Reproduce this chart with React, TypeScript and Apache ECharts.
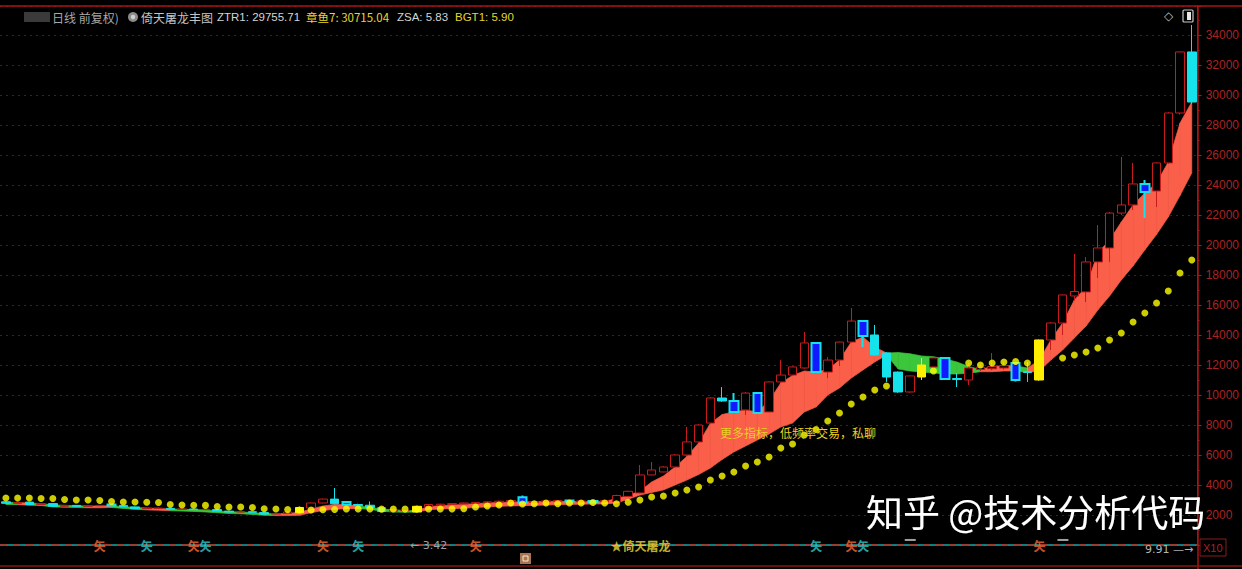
import React, { useEffect, useRef } from "react";
import * as echarts from "echarts";

// [open, close, low, high]
const kline: number[][] = [
  [2880, 2780, 2760, 2900], [2780, 2840, 2760, 2870], [2860, 2700, 2680, 2880], [2700, 2760, 2680, 2780],
  [2760, 2580, 2560, 2780], [2580, 2640, 2560, 2660], [2640, 2580, 2560, 2660], [2580, 2620, 2560, 2640],
  [2620, 2640, 2580, 2680], [2700, 2640, 2620, 2760], [2640, 2560, 2540, 2660], [2540, 2420, 2400, 2560],
  [2420, 2460, 2400, 2480], [2460, 2440, 2420, 2500], [2440, 2380, 2360, 2460], [2380, 2400, 2360, 2420],
  [2400, 2360, 2340, 2420], [2360, 2380, 2340, 2400], [2360, 2260, 2240, 2380], [2260, 2200, 2180, 2280],
  [2200, 2220, 2180, 2240], [2220, 2180, 2160, 2240], [2160, 2060, 2040, 2180], [2060, 2100, 2040, 2120],
  [2100, 2200, 2060, 2240], [2150, 2500, 2130, 2550], [2470, 2800, 2450, 2830], [2800, 3060, 2780, 3100],
  [3060, 2750, 2730, 3800], [2860, 2680, 2660, 2900], [2700, 2620, 2600, 2750], [2650, 2500, 2480, 2900],
  [2480, 2230, 2200, 2500], [2250, 2300, 2200, 2350], [2300, 2280, 2220, 2350], [2200, 2580, 2180, 2600],
  [2560, 2700, 2540, 2730], [2650, 2720, 2620, 2750], [2700, 2760, 2680, 2780], [2740, 2800, 2720, 2830],
  [2780, 2840, 2760, 2860], [2820, 2880, 2800, 2900], [2860, 2920, 2840, 2950], [2880, 2960, 2860, 3000],
  [3180, 2820, 2800, 3300], [2840, 2900, 2820, 2940], [2880, 2940, 2860, 2960], [2920, 2960, 2900, 2990],
  [2960, 2880, 2860, 2990], [2880, 2940, 2860, 2960], [2930, 2860, 2840, 2960], [2870, 2960, 2850, 2990],
  [2870, 3300, 2850, 3350], [3230, 3580, 3200, 3620], [3470, 4670, 3450, 5330], [4670, 5000, 4650, 5530],
  [4870, 5200, 4850, 5250], [5200, 6000, 5150, 6050], [6000, 6870, 5950, 7870], [6870, 8000, 6800, 8050],
  [8130, 9800, 8100, 9850], [9800, 9600, 9550, 10530], [9600, 8870, 8800, 10130], [9000, 10130, 8670, 10200],
  [10130, 8800, 8750, 10200], [8870, 10870, 8850, 10900], [10870, 11330, 10800, 12330], [11330, 11870, 11300, 11900],
  [11800, 13470, 11750, 14200], [13470, 11530, 11500, 13500], [11530, 12330, 11130, 12530], [12330, 13530, 11930, 13560],
  [13530, 14930, 13500, 15800], [14930, 13930, 13200, 14950], [14000, 12670, 12600, 14670], [12800, 11200, 10870, 12850],
  [11530, 10200, 10150, 11560], [10200, 11270, 10150, 11300], [11200, 12000, 11000, 12470], [11870, 12470, 11800, 12500],
  [12470, 11070, 11000, 12500], [11100, 11030, 10530, 11470], [11000, 11800, 10670, 12130], [11700, 11850, 11600, 12100],
  [11750, 11900, 11650, 12800], [11800, 11950, 11700, 12200], [12130, 11000, 10900, 12200], [11560, 11500, 10870, 12200],
  [11000, 13670, 10950, 13700], [13670, 14800, 13000, 14850], [14800, 16670, 14000, 16700], [16600, 16900, 16300, 19400],
  [16870, 18870, 16200, 19200], [18870, 19800, 17800, 21330], [19800, 22130, 18870, 22200], [22130, 22670, 22000, 25870],
  [22670, 24070, 22330, 25470], [24070, 23530, 21800, 24330], [23600, 25470, 22530, 25500], [25470, 28800, 25400, 28850],
  [28800, 32870, 28700, 32900], [32870, 29530, 29400, 34670],
];

// candle style: u = hollow red, d = cyan, b = blue with cyan edge, y = yellow
const kinds: string[] = [
  "d", "u", "d", "u", "d", "u", "d", "u", "u", "b",
  "d", "d", "u", "u", "d", "u", "d", "u", "d", "d",
  "u", "d", "d", "u", "u", "y", "u", "u", "d", "b",
  "d", "d", "d", "u", "u", "y", "u", "u", "u", "u",
  "u", "u", "u", "u", "b", "u", "u", "u", "b", "u",
  "b", "u", "u", "u", "u", "u", "u", "u", "u", "u",
  "u", "d", "b", "u", "b", "u", "u", "u", "u", "b",
  "u", "u", "u", "b", "d", "d", "d", "u", "y", "u",
  "b", "d", "u", "u", "u", "u", "b", "d", "y", "u",
  "u", "u", "u", "u", "u", "u", "u", "b", "u", "u",
  "u", "d",
];

const bandTop: number[] = [
  2850, 2830, 2800, 2760, 2680, 2640, 2620, 2600, 2600, 2620,
  2560, 2500, 2460, 2440, 2400, 2380, 2360, 2340, 2280, 2220,
  2200, 2160, 2100, 2080, 2100, 2180, 2400, 2600, 2700, 2680,
  2620, 2500, 2400, 2350, 2300, 2300, 2560, 2620, 2660, 2700,
  2760, 2800, 2840, 2860, 2880, 2880, 2900, 2920, 2900, 2900,
  2880, 2900, 3100, 3300, 3600, 4200, 4600, 5200, 5900, 6800,
  8100, 8700, 8870, 9000, 8870, 9600, 10800, 11300, 11600, 11530,
  11700, 12330, 13530, 13870, 13200, 12800, 12830, 12750, 12600, 12550,
  12400, 12200, 11900, 11700, 11900, 11950, 11950, 11800, 12300, 13670,
  14800, 16330, 17200, 19470, 20330, 21530, 22670, 23470, 24130, 25530,
  28130, 29530,
];

const bandBottom: number[] = [
  2700, 2690, 2650, 2630, 2540, 2520, 2500, 2480, 2480, 2500,
  2440, 2380, 2340, 2320, 2280, 2260, 2240, 2200, 2150, 2100,
  2080, 2040, 1980, 1960, 1960, 1980, 2150, 2300, 2380, 2420,
  2420, 2380, 2250, 2200, 2180, 2200, 2350, 2400, 2420, 2450,
  2500, 2540, 2580, 2600, 2620, 2640, 2660, 2680, 2700, 2720,
  2730, 2740, 2800, 3050, 3330, 3500, 3670, 4000, 4330, 4700,
  5130, 5700, 6200, 6600, 7000, 7400, 7870, 8130, 8870, 9200,
  10000, 10470, 11130, 11670, 12200, 12670, 11730, 11600, 11530, 11470,
  11400, 11400, 11450, 11550, 11550, 11600, 11600, 11500, 11600, 12330,
  13000, 13800, 14600, 15670, 16600, 17670, 18600, 19670, 20700, 21870,
  23300, 24800,
];

// colour of the band segment starting at each bar: g = green, r = red
const bandColor: string[] = [
  "g", "r", "g", "g", "g", "g", "g", "r", "r", "g",
  "g", "g", "r", "r", "g", "g", "g", "g", "g", "g",
  "g", "g", "g", "r", "r", "r", "r", "r", "r", "r",
  "g", "g", "g", "g", "g", "r", "r", "r", "r", "r",
  "r", "r", "r", "r", "r", "r", "r", "r", "r", "r",
  "r", "r", "r", "r", "r", "r", "r", "r", "r", "r",
  "r", "r", "r", "r", "r", "r", "r", "r", "r", "r",
  "r", "r", "r", "r", "r", "g", "g", "g", "g", "g",
  "g", "g", "g", "r", "r", "r", "g", "r", "r", "r",
  "r", "r", "r", "r", "r", "r", "r", "r", "r", "r",
  "r", "r",
];

// yellow stop dots (null = hidden behind candles)
const stopDots: (number | null)[] = [
  3130, 3130, 3130, 3100, 3100, 3030, 3000, 3000, 2970, 2900,
  2870, 2870, 2850, 2830, 2700, 2670, 2650, 2640, 2570, 2530,
  2530, 2500, 2420, 2400, 2360, 2330, 2330, 2350, 2370, 2400,
  2400, 2400, 2390, 2400, 2400, 2400, 2400, 2400, 2400, 2420,
  2530, 2600, 2670, 2800, 2730, 2750, 2800, 2750, 2800, 2800,
  2830, 2800, 2750, 2850, 3000, 3200, 3270, 3470, 3670, 3870,
  4330, 4600, 4870, 5270, 5530, 5870, 6470, 6730, 7330, 7700,
  8270, 8800, 9400, 9870, 10330, 10600, null, null, null, 11600,
  null, null, 12130, 12000, 12130, 12200, 12230, 12130, null, null,
  12470, 12670, 12870, 13130, 13670, 14130, 14870, 15470, 16130, 16930,
  18130, 19000,
];

const orangeSignals: number[] = [8, 16, 27, 40, 72, 88];
const cyanSignals: number[] = [12, 17, 30, 69, 73];
const dashSignals: number[] = [77, 90];
const starSignal = 52;

const yTicks = { min: 0, interval: 2000, maxLabel: 34000 };

const RED = "#c81c1c";
const CYAN = "#16e2ec";
const BLUE = "#1218ff";
const YEL = "#ffee00";
const BAND_RED = "#fa5f4a";
const BAND_GREEN = "#3cc63c";

function styleFor(k: string) {
  if (k === "u") return { color: "#000", color0: "#000", borderColor: RED, borderColor0: RED, borderWidth: 1 };
  if (k === "d") return { color: CYAN, color0: CYAN, borderColor: CYAN, borderColor0: CYAN, borderWidth: 1 };
  if (k === "b") return { color: BLUE, color0: BLUE, borderColor: CYAN, borderColor0: CYAN, borderWidth: 2 };
  return { color: YEL, color0: YEL, borderColor: YEL, borderColor0: YEL, borderWidth: 1 };
}

export default function App() {
  const ref = useRef<HTMLDivElement>(null);
  useEffect(() => {
    const chart = echarts.init(ref.current!, null, { renderer: "svg" });
    const N = kline.length;
    const cats = kline.map((_, i) => `D${i + 1}`);

    const text = (x: number, y: number, t: string, fill: string, size: number, family: string, weight = "normal") => ({
      type: "text",
      x,
      y,
      z: 50,
      silent: true,
      style: {
        text: t,
        fill,
        fontSize: size,
        fontFamily: family,
        fontWeight: weight,
        textVerticalAlign: "middle",
        verticalAlign: "middle",
      },
    });
    const SANS = "Liberation Sans, Arial, sans-serif";
    const CJK = "Noto Sans CJK SC, sans-serif";

    const option: any = {
      animation: false,
      backgroundColor: "#000",
      grid: [
        { left: 0, right: 44, top: 6, bottom: 24 },
        { left: 0, right: 44, top: 533, height: 24 },
      ],
      xAxis: [
        {
          type: "category", data: cats, gridIndex: 0, boundaryGap: true,
          axisLine: { show: false }, axisTick: { show: false }, axisLabel: { show: false }, splitLine: { show: false },
        },
        {
          type: "category", data: cats, gridIndex: 1, boundaryGap: true,
          axisLine: { show: true, onZero: true, lineStyle: { color: "#17a4a6", width: 1.5 } },
          axisTick: { show: false }, axisLabel: { show: false }, splitLine: { show: false },
        },
      ],
      yAxis: [
        {
          type: "value", gridIndex: 0, position: "right",
          min: yTicks.min, max: 35933, interval: yTicks.interval,
          axisLine: { show: true, lineStyle: { color: "#b01616" } },
          axisTick: { show: true, length: 4, lineStyle: { color: "#b01616" } },
          minorTick: { show: true, splitNumber: 2, length: 2, lineStyle: { color: "#b01616" } },
          axisLabel: {
            color: "#a82424", fontSize: 12, margin: 8, fontFamily: SANS,
            formatter: (v: number) => (v > 0 && v <= yTicks.maxLabel && v % yTicks.interval === 0 ? String(v) : ""),
          },
          splitLine: { show: true, lineStyle: { color: "#5e1414", type: [2, 4], width: 1 } },
        },
        { type: "value", gridIndex: 1, min: -1, max: 1, show: false },
      ],
      series: [
        {
          type: "custom",
          xAxisIndex: 0, yAxisIndex: 0,
          z: 1, silent: true,
          data: bandTop.map((t, i) => [i, t, bandBottom[i]]),
          encode: { x: 0, y: [1, 2] },
          renderItem: (params: any, api: any) => {
            const i = api.value(0);
            if (i >= N - 1) return { type: "group", children: [] };
            const a = api.coord([i, bandTop[i]]);
            const b = api.coord([i + 1, bandTop[i + 1]]);
            const c = api.coord([i + 1, bandBottom[i + 1]]);
            const d = api.coord([i, bandBottom[i]]);
            const col = bandColor[i] === "g" ? BAND_GREEN : BAND_RED;
            return {
              type: "polygon",
              shape: { points: [a, b, c, d] },
              style: { fill: col, stroke: col, lineWidth: 0.7 },
            };
          },
        },
        {
          type: "candlestick",
          xAxisIndex: 0, yAxisIndex: 0,
          z: 2, barWidth: 9,
          data: kline.map((k, i) => ({ value: k, itemStyle: styleFor(kinds[i]) })),
        },
        {
          type: "scatter",
          xAxisIndex: 0, yAxisIndex: 0,
          z: 3, symbol: "circle", symbolSize: 7,
          itemStyle: { color: "#ffff00" },
          data: stopDots.map((v, i) => [i, v]).filter((d) => d[1] !== null),
        },
        {
          type: "scatter",
          xAxisIndex: 1, yAxisIndex: 1,
          symbolSize: 1, itemStyle: { color: "rgba(0,0,0,0)" },
          label: { show: true, position: "inside", formatter: "矢", color: "#ff6a30", fontSize: 12, fontWeight: "bold", fontFamily: CJK },
          data: orangeSignals.map((i) => [i, 0]),
          markLine: {
            silent: true, symbol: "none", label: { show: false },
            lineStyle: { color: "#c22a1a", type: [7, 6], width: 1.5 },
            data: [{ yAxis: 0 }],
          },
          z: 5,
        },
        {
          type: "scatter",
          xAxisIndex: 1, yAxisIndex: 1,
          symbolSize: 1, itemStyle: { color: "rgba(0,0,0,0)" },
          label: { show: true, position: "inside", formatter: "矢", color: "#30cccc", fontSize: 12, fontWeight: "bold", fontFamily: CJK },
          data: cyanSignals.map((i) => [i, 0]),
          z: 6,
        },
        {
          type: "scatter",
          xAxisIndex: 1, yAxisIndex: 1,
          symbol: "rect", symbolSize: [11, 2],
          itemStyle: { color: "#c8c8c8" },
          data: dashSignals.map((i) => [i, 0.42]),
          z: 6,
        },
        {
          type: "scatter",
          xAxisIndex: 1, yAxisIndex: 1,
          symbolSize: 1, itemStyle: { color: "rgba(0,0,0,0)" },
          label: {
            show: true, position: "inside", align: "left", offset: [-6, 0],
            formatter: "★倚天屠龙", color: "#f2e034", fontSize: 12, fontWeight: "bold", fontFamily: CJK,
          },
          data: [[starSignal, 0]],
          z: 6,
        },
      ],
      graphic: [
        // frame
        { type: "line", z: 40, silent: true, shape: { x1: 0, y1: 6, x2: 1242, y2: 6 }, style: { stroke: "#a81414", lineWidth: 1.5 } },
        { type: "line", z: 40, silent: true, shape: { x1: 1198, y1: 6, x2: 1198, y2: 569 }, style: { stroke: "#a81414", lineWidth: 1.5 } },
        { type: "line", z: 40, silent: true, shape: { x1: 0, y1: 566, x2: 1242, y2: 566 }, style: { stroke: "#8a1414", lineWidth: 1.5 } },
        // title
        { type: "rect", z: 40, silent: true, shape: { x: 24, y: 12, width: 26, height: 10 }, style: { fill: "#3a3a3a" } },
        text(52, 17, "日线 前复权)", "#a8a8a8", 12, CJK),
        { type: "circle", z: 40, silent: true, shape: { cx: 133, cy: 17, r: 5 }, style: { fill: "#8c8c8c" } },
        { type: "circle", z: 41, silent: true, shape: { cx: 133, cy: 17, r: 2.2 }, style: { fill: "#d0d0d0" } },
        text(141, 17, "倚天屠龙丰图", "#c4c4c4", 12, CJK),
        text(217, 17, "ZTR1: 29755.71", "#d4d4d4", 11.5, SANS),
        text(306, 17, "章鱼7: 30715.04", "#e6d62e", 11.5, CJK),
        text(397, 17, "ZSA: 5.83", "#d4d4d4", 11.5, SANS),
        text(455, 17, "BGT1: 5.90", "#e6d62e", 11.5, SANS),
        // top-right icons
        text(1164, 16, "◇", "#b8b8b8", 12, "DejaVu Sans"),
        { type: "rect", z: 40, silent: true, shape: { x: 1183, y: 10, width: 10, height: 12, r: 1 }, style: { fill: "none", stroke: "#c8c8c8", lineWidth: 1.2 } },
        { type: "rect", z: 40, silent: true, shape: { x: 1187, y: 12, width: 4, height: 8 }, style: { fill: "#e8e8e8" } },
        // annotations
        text(720, 432, "更多指标，低频率交易，私聊", "#e8d024", 12, CJK),
        {
          type: "text", x: 866, y: 511, z: 60, silent: true,
          style: {
            text: "知乎 @技术分析代码", fill: "#ffffff", fontSize: 37, fontFamily: CJK,
            textVerticalAlign: "middle", verticalAlign: "middle",
            textShadowColor: "rgba(0,0,0,0.6)", textShadowBlur: 2,
          },
        },
        text(410, 545, "← 3.42", "#a0a0a0", 11, "DejaVu Sans"),
        text(1145, 549, "9.91 —→", "#b4b4b4", 11, "DejaVu Sans"),
        { type: "rect", z: 40, silent: true, shape: { x: 1200, y: 539, width: 26, height: 17 }, style: { fill: "#000", stroke: "#8a1c1c", lineWidth: 1 } },
        text(1203, 548, "X10", "#a82424", 11, SANS),
        { type: "rect", z: 40, silent: true, shape: { x: 520, y: 553, width: 11, height: 11 }, style: { fill: "#a87454" } },
        { type: "rect", z: 41, silent: true, shape: { x: 523, y: 556, width: 5, height: 5 }, style: { fill: "none", stroke: "#ffe4c8", lineWidth: 1 } },
      ],
    };
    chart.setOption(option);
    return () => chart.dispose();
  }, []);
  return (
    <div
      ref={ref}
      style={{ position: "fixed", left: 0, top: 0, width: 1242, height: 569, background: "#000" }}
    />
  );
}
